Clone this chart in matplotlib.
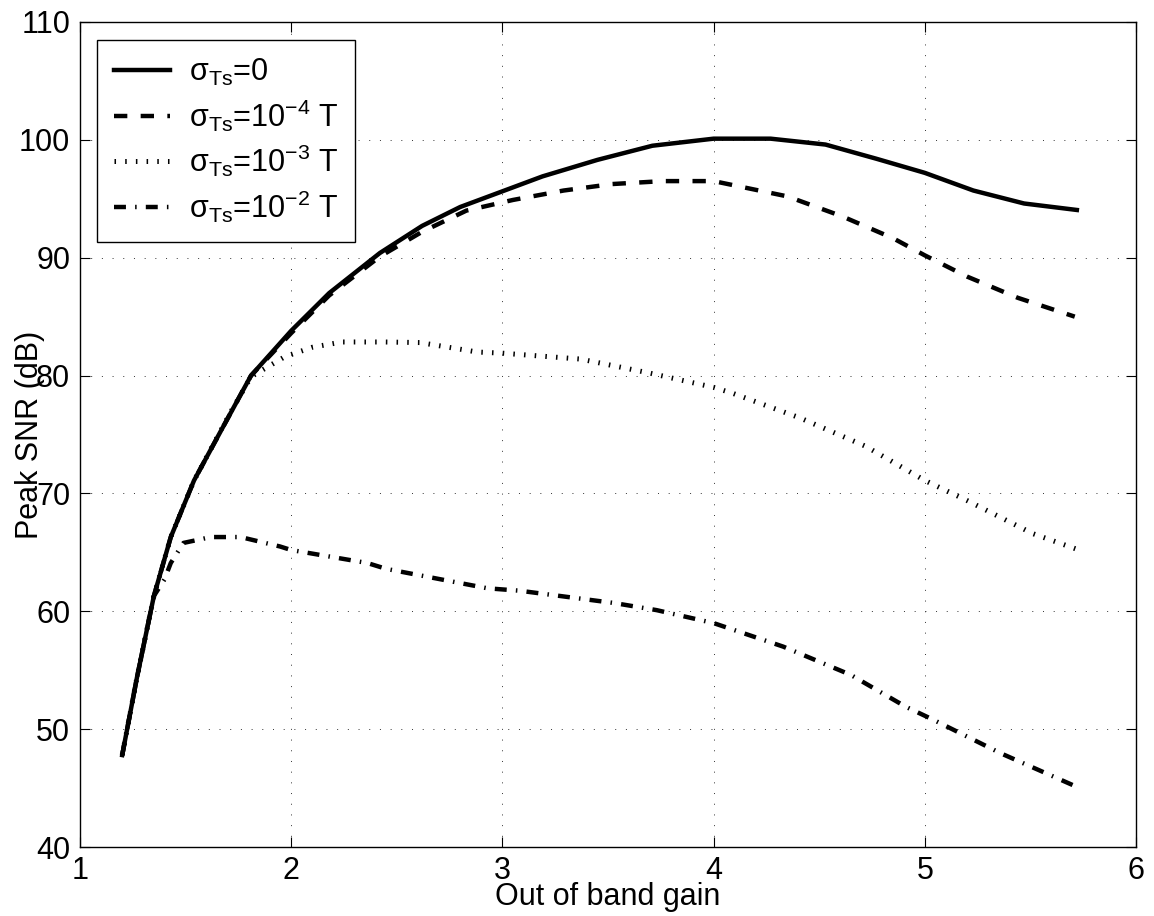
import matplotlib
matplotlib.use("Agg")
import matplotlib.pyplot as plt

plt.rcParams['font.family'] = ['Liberation Sans', 'DejaVu Sans']
plt.rcParams['mathtext.fontset'] = 'custom'
plt.rcParams['mathtext.rm'] = 'Liberation Sans'
plt.rcParams['mathtext.it'] = 'Liberation Sans:italic'
plt.rcParams['mathtext.bf'] = 'Liberation Sans:bold'
plt.rcParams['lines.scale_dashes'] = False

# ---- data ----
x_s0 = [1.20, 1.27, 1.35, 1.43, 1.54, 1.67, 1.81, 2.00, 2.18, 2.42, 2.62, 2.80,
        3.19, 3.45, 3.71, 4.00, 4.27, 4.53, 4.77, 5.00, 5.23, 5.47, 5.72]
y_s0 = [47.8, 54.4, 61.3, 66.3, 71.1, 75.4, 80.0, 83.8, 87.0, 90.4, 92.7, 94.3,
        96.9, 98.3, 99.5, 100.1, 100.1, 99.6, 98.4, 97.2, 95.7, 94.6, 94.05]

x_s4 = [1.20, 1.27, 1.35, 1.43, 1.54, 1.67, 1.81, 2.00, 2.18, 2.42, 2.62, 2.83,
        3.05, 3.29, 3.52, 3.76, 4.00, 4.35, 4.61, 4.85, 5.00, 5.20, 5.44, 5.71]
y_s4 = [47.8, 54.4, 61.3, 66.3, 71.1, 75.4, 80.0, 83.6, 86.8, 90.1, 92.2, 94.0,
        94.9, 95.7, 96.25, 96.5, 96.5, 95.2, 93.5, 91.65, 90.2, 88.4, 86.6, 85.0]

x_s3 = [1.20, 1.27, 1.35, 1.43, 1.54, 1.71, 1.81, 1.97, 2.10, 2.24, 2.44, 2.61,
        2.88, 3.00, 3.37, 3.70, 4.00, 4.09, 4.41, 4.72, 5.00, 5.20, 5.51, 5.73]
y_s3 = [47.8, 54.4, 61.3, 66.3, 71.1, 76.8, 79.9, 81.6, 82.4, 82.85, 82.85, 82.8,
        82.0, 81.9, 81.4, 80.2, 79.0, 78.5, 76.4, 74.0, 71.1, 69.4, 66.6, 65.2]

x_s2 = [1.20, 1.27, 1.35, 1.40, 1.43, 1.49, 1.62, 1.76, 1.947, 2.00, 2.36, 2.45,
        2.93, 3.08, 3.53, 3.73, 4.00, 4.33, 4.65, 4.91, 5.04, 5.36, 5.70]
y_s2 = [47.8, 54.4, 61.3, 62.7, 64.1, 65.8, 66.3, 66.3, 65.5, 65.2, 64.1, 63.6,
        61.95, 61.75, 60.7, 60.1, 59.0, 57.0, 54.6, 51.9, 50.8, 47.95, 45.26]

labels = [r'$\mathrm{σ}_{\mathrm{Ts}}$=0',
          r'$\mathrm{σ}_{\mathrm{Ts}}$=10$^{-4}$ T',
          r'$\mathrm{σ}_{\mathrm{Ts}}$=10$^{-3}$ T',
          r'$\mathrm{σ}_{\mathrm{Ts}}$=10$^{-2}$ T']

x_ticks = [1, 2, 3, 4, 5, 6]
y_ticks = [40, 50, 60, 70, 80, 90, 100, 110]

fig = plt.figure(figsize=(11.54, 9.16), dpi=100)
ax = fig.add_axes([0.0693, 0.0753, 0.9151, 0.9007])

lw = 3.2
ax.plot(x_s0, y_s0, color='black', lw=lw, ls='-', label=labels[0],
        solid_joinstyle='round')
ax.plot(x_s4, y_s4, color='black', lw=lw, ls=(0, (9.6, 9.6)), label=labels[1],
        dash_capstyle='butt')
ax.plot(x_s3, y_s3, color='black', lw=3.6, ls=(0, (1.1, 6.6)), label=labels[2],
        dash_capstyle='butt')
ax.plot(x_s2, y_s2, color='black', lw=lw, ls=(0, (8.6, 6.6, 1.1, 6.6)), label=labels[3],
        dash_capstyle='butt')

ax.set_xlim(1, 6)
ax.set_ylim(40, 110)
ax.set_xticks(x_ticks)
ax.set_yticks(y_ticks)
ax.tick_params(direction='in', length=7.5, width=0.8, labelsize=22,
               top=True, right=True, pad=7)
ax.tick_params(axis='x', pad=6.5)
for s in ax.spines.values():
    s.set_linewidth(1.0)

ax.grid(True, color='#333333', lw=0.7, ls=(0, (0.7, 7.0)))

ax.set_xlabel('Out of band gain', fontsize=22)
ax.xaxis.set_label_coords(0.5, -0.0606)
ax.xaxis.label.set_va('center')
ax.set_ylabel('Peak SNR (dB)', fontsize=22)
ax.yaxis.set_label_coords(-0.047, 0.5)
ax.yaxis.label.set_va('center')

leg = ax.legend(loc='upper left', bbox_to_anchor=(0.016, 0.978), borderaxespad=0,
                fontsize=22, frameon=True, fancybox=False, framealpha=1,
                edgecolor='black', handlelength=1.85, handletextpad=0.6,
                labelspacing=0.3, borderpad=0.55)
leg.get_frame().set_linewidth(1.0)

fig.savefig('out.png', dpi=100, facecolor='white')
